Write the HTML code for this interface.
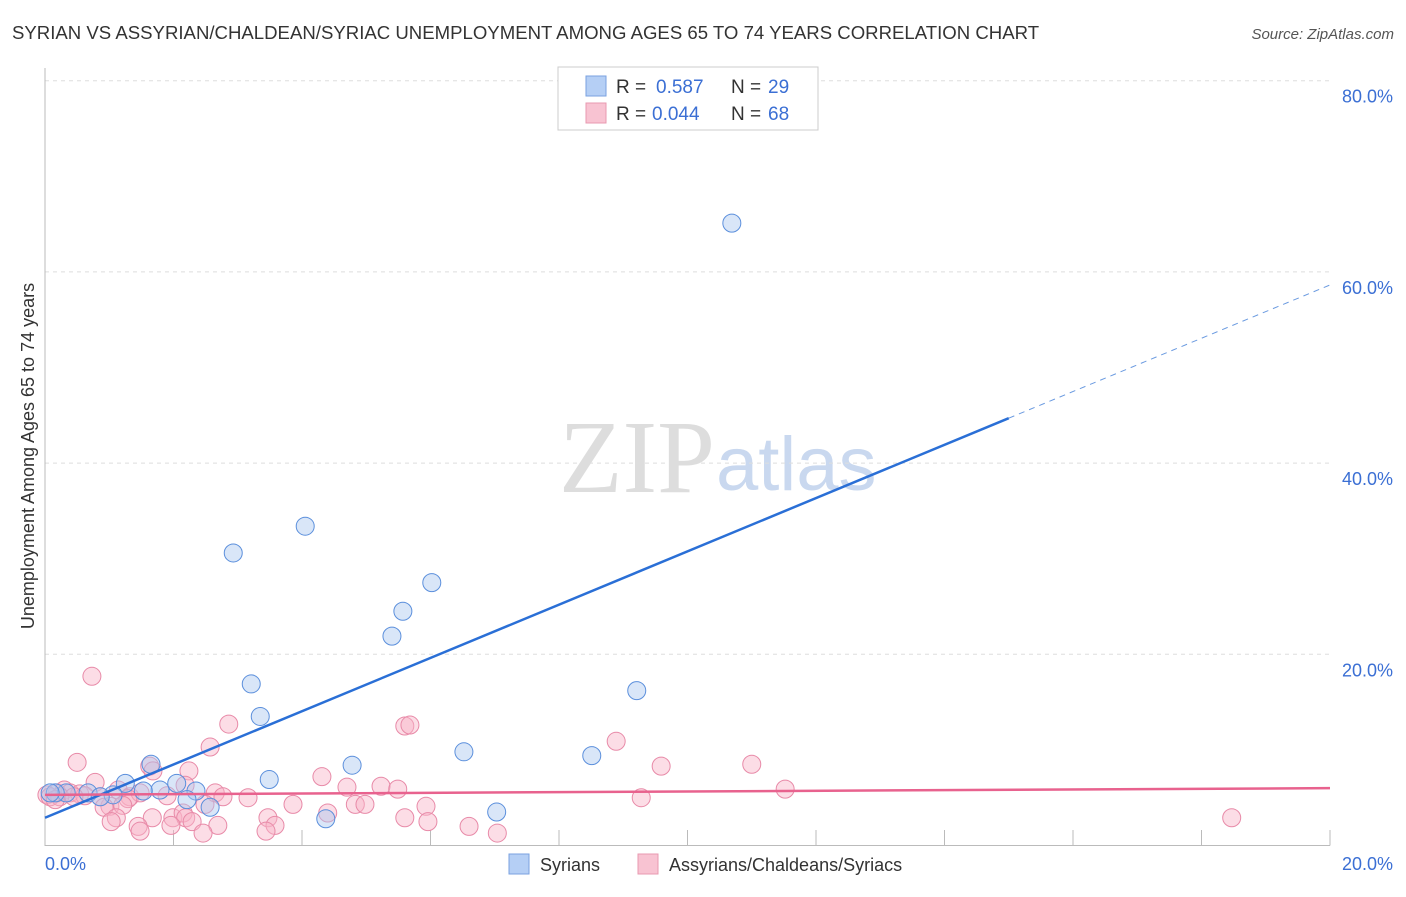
<!DOCTYPE html>
<html><head><meta charset="utf-8"><style>
body{margin:0;background:#fff;font-family:"Liberation Sans",sans-serif}
</style></head><body>
<svg id="c" width="1406" height="892" xmlns="http://www.w3.org/2000/svg">
<text x="12" y="39" font-size="18.6" fill="#333">SYRIAN VS ASSYRIAN/CHALDEAN/SYRIAC UNEMPLOYMENT AMONG AGES 65 TO 74 YEARS CORRELATION CHART</text>
<text x="1394" y="39" font-size="15" fill="#555" font-style="italic" text-anchor="end">Source: ZipAtlas.com</text>
<text x="715" y="492" font-size="104" fill="#ddd" text-anchor="end" font-family="Liberation Serif">ZIP</text>
<text x="716" y="490" font-size="76" fill="#c9d8ef">atlas</text>
<g id="grid"></g><g id="pts"></g><g id="lines"></g>
<text transform="translate(34,456) rotate(-90)" font-size="18" fill="#333" text-anchor="middle">Unemployment Among Ages 65 to 74 years</text>
<text x="45" y="870" font-size="18" fill="#3b6fd4">0.0%</text>
<text x="1393" y="870" font-size="18" fill="#3b6fd4" text-anchor="end">20.0%</text>
<g font-size="19">
<rect x="558" y="67" width="260" height="63" fill="#fff" stroke="#ccc"/>
<rect x="586" y="76" width="20" height="20" fill="#b5cff5" stroke="#7aa2e0"/>
<rect x="586" y="103" width="20" height="20" fill="#f8c3d2" stroke="#e89ab0"/>
<text x="616" y="93" fill="#333">R =</text><text x="656" y="93" fill="#3b6fd4">0.587</text>
<text x="731" y="93" fill="#333">N =</text><text x="768" y="93" fill="#3b6fd4">29</text>
<text x="616" y="120" fill="#333">R =</text><text x="652" y="120" fill="#3b6fd4">0.044</text>
<text x="731" y="120" fill="#333">N =</text><text x="768" y="120" fill="#3b6fd4">68</text>
</g>
<g>
<rect x="509" y="854" width="20" height="20" fill="#b5cff5" stroke="#7aa2e0"/>
<text x="540" y="871" font-size="18" fill="#333">Syrians</text>
<rect x="638" y="854" width="20" height="20" fill="#f8c3d2" stroke="#e89ab0"/>
<text x="669" y="871" font-size="18" fill="#333">Assyrians/Chaldeans/Syriacs</text>
</g>
</svg>
<script>
const yTicks=[20,40,60,80];
const yTickLabels=["20.0%","40.0%","60.0%","80.0%"];
const blueX=[10.69,4.05,2.93,6.02,5.57,5.4,9.21,3.21,3.35,6.52,8.51,4.78,1.65,3.49,2.05,1.25,1.79,2.35,1.06,0.67,0.33,0.16,2.21,2.57,7.03,4.37,1.53,0.08,0.86];
const blueY=[65.1,33.4,30.6,27.5,24.5,21.9,16.2,16.9,13.5,9.8,9.4,8.4,8.5,6.9,6.5,6.5,5.8,5.7,5.3,5.5,5.5,5.5,4.8,4.0,3.5,2.8,5.7,5.5,5.1];
const pinkX=[0.73,2.86,5.6,5.68,8.89,2.57,0.5,1.63,1.68,2.24,9.59,11.0,4.31,0.78,4.7,5.23,5.49,11.52,9.28,0.19,0.3,0.39,0.54,0.62,0.86,1.14,1.32,1.48,1.9,2.65,2.77,3.16,2.18,2.49,1.29,1.01,0.92,1.21,1.11,1.03,1.67,1.45,1.48,1.99,2.15,2.19,2.29,1.96,2.69,2.46,3.47,3.58,3.44,3.86,4.4,4.83,4.98,5.6,5.93,5.96,6.6,7.04,18.47,0.03,0.08,0.23,0.45,0.16];
const pinkY=[17.7,12.7,12.5,12.6,10.9,10.3,8.7,8.3,7.8,7.8,8.3,8.5,7.2,6.6,6.1,6.2,5.9,5.9,5.0,5.5,5.8,5.5,5.4,5.2,5.1,5.8,5.1,5.5,5.2,5.5,5.1,5.0,6.3,4.3,4.9,4.1,4.0,4.2,2.9,2.5,2.9,2.0,1.5,2.9,3.4,2.9,2.5,2.1,2.1,1.3,2.9,2.1,1.5,4.3,3.4,4.3,4.3,2.9,4.1,2.5,2.0,1.3,2.9,5.3,5.1,5.1,5.1,4.8];
const blueTrend=[0,2.9,15,44.7];
const pinkTrend=[0,5.3,20,6.0];
const X=v=>45+v*64.25, Y=v=>845.5-v*9.56;
const NS="http://www.w3.org/2000/svg";
function mk(p,t,a){const e=document.createElementNS(NS,t);for(const k in a)e.setAttribute(k,a[k]);document.getElementById(p).appendChild(e);return e;}
yTicks.forEach((t,i)=>{
 const l=mk('grid','line',{x1:45,x2:1330,y1:Y(t),y2:Y(t),stroke:'#ddd','stroke-dasharray':'4,4'});
 
 
 const tx=mk('grid','text',{x:1393,y:Y(t)+22,'font-size':18,fill:'#3b6fd4','text-anchor':'end'});
 tx.textContent=yTickLabels[i];
 
 
});
for(let i=1;i<=10;i++){const l=mk('grid','line',{x1:X(i*2),x2:X(i*2),y1:830,y2:845.5,stroke:'#bbb'});
 
 }
let ax=mk('grid','path',{d:'M45 68 V845.5 H1330',fill:'none',stroke:'#bbb'});


pinkX.forEach((x,i)=>{const c=mk('pts','circle',{cx:X(x),cy:Y(pinkY[i]),r:9,fill:'rgba(248,180,200,0.45)',stroke:'#e88aa8','stroke-width':1});
 
 });
blueX.forEach((x,i)=>{const c=mk('pts','circle',{cx:X(x),cy:Y(blueY[i]),r:9,fill:'rgba(170,200,240,0.45)',stroke:'#5b8fdc','stroke-width':1});
 
 });
const by=x=>blueTrend[1]+(blueTrend[3]-blueTrend[1])*(x-blueTrend[0])/(blueTrend[2]-blueTrend[0]);
let b1=mk('lines','line',{x1:X(0),y1:Y(by(0)),x2:X(blueTrend[2]),y2:Y(by(blueTrend[2])),stroke:'#2a6fd6','stroke-width':2.5});


let b2=mk('lines','line',{x1:X(blueTrend[2]),y1:Y(by(blueTrend[2])),x2:X(20),y2:Y(by(20)),stroke:'#6a9ae0','stroke-width':1,'stroke-dasharray':'6,5'});


let p1=mk('lines','line',{x1:X(pinkTrend[0]),y1:Y(pinkTrend[1]),x2:X(pinkTrend[2]),y2:Y(pinkTrend[3]),stroke:'#e8628e','stroke-width':2.5});


</script>
</body></html>
